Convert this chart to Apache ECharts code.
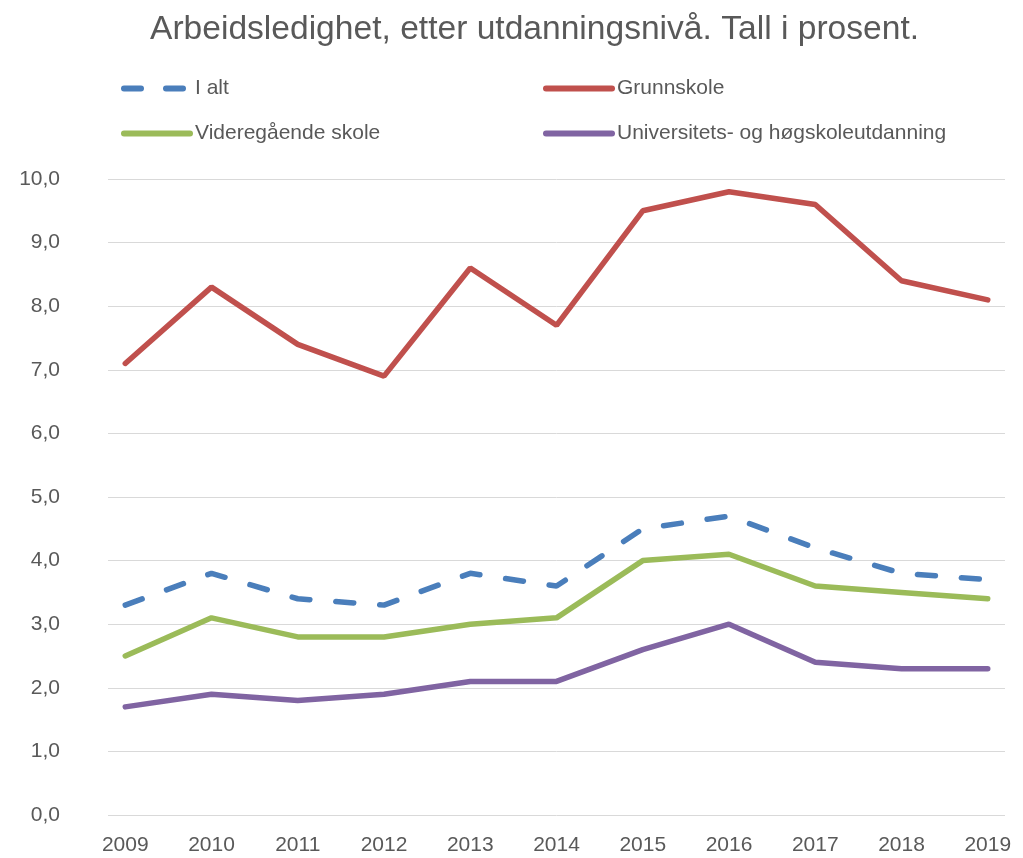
<!DOCTYPE html>
<html>
<head>
<meta charset="utf-8">
<script src="https://cdn.jsdelivr.net/npm/echarts@6/dist/echarts.min.js"></script>
<style>html,body{margin:0;padding:0;background:#fff}#c{width:1023px;height:858px}</style>
</head>
<body>
<div id="c"></div>
<script>
const years = [2009, 2010, 2011, 2012, 2013, 2014, 2015, 2016, 2017, 2018, 2019];
const iAlt = [3.3, 3.8, 3.4, 3.3, 3.8, 3.6, 4.5, 4.7, 4.2, 3.8, 3.7];
const grunnskole = [7.1, 8.3, 7.4, 6.9, 8.6, 7.7, 9.5, 9.8, 9.6, 8.4, 8.1];
const videregaende = [2.5, 3.1, 2.8, 2.8, 3.0, 3.1, 4.0, 4.1, 3.6, 3.5, 3.4];
const universitet = [1.7, 1.9, 1.8, 1.9, 2.1, 2.1, 2.6, 3.0, 2.4, 2.3, 2.3];
const names = ['I alt', 'Grunnskole', 'Videregående skole', 'Universitets- og høgskoleutdanning'];
const colors = ['#4a7ebb', '#c0504d', '#9bbb59', '#8064a2'];

const FONT = '"Liberation Sans", Arial, sans-serif';
const TXT = '#595959';
const pair = arr => years.map((y, i) => [y, arr[i]]);

const legendPos = [
  {left: 121, top: 78},
  {left: 543, top: 78},
  {left: 121, top: 123},
  {left: 543, top: 123}
];

const chart = echarts.init(document.getElementById('c'), null, {renderer: 'canvas'});
chart.setOption({
  animation: false,
  title: {
    text: 'Arbeidsledighet, etter utdanningsnivå. Tall i prosent.',
    left: 145, top: 8,
    textStyle: {fontFamily: FONT, fontSize: 33.6, fontWeight: 'normal', color: TXT}
  },
  legend: names.map((n, i) => ({
    data: [n], left: legendPos[i].left, top: legendPos[i].top, padding: 0,
    itemWidth: 66, itemHeight: 20,
    itemStyle: {opacity: 0},
    lineStyle: {width: 6, cap: 'round', type: i === 0 ? [17, 25] : 'solid', color: colors[i]},
    textStyle: {fontFamily: FONT, fontSize: 21, color: TXT}
  })),
  grid: {left: 108, right: 18, top: 179, bottom: 43, containLabel: false},
  xAxis: {
    type: 'value', min: 2008.8, max: 2019.2,
    axisLine: {show: false}, axisTick: {show: false}, splitLine: {show: false},
    axisLabel: {
      customValues: years, margin: 20,
      fontFamily: FONT, fontSize: 21, color: TXT,
      formatter: v => String(Math.round(v))
    }
  },
  yAxis: {
    type: 'value', min: 0, max: 10, interval: 1,
    axisLine: {show: false}, axisTick: {show: false},
    splitLine: {lineStyle: {color: '#d9d9d9', width: 1}},
    axisLabel: {
      margin: 48, fontFamily: FONT, fontSize: 21, color: TXT,
      formatter: v => v.toFixed(1).replace('.', ',')
    }
  },
  series: [
    {name: names[0], type: 'line', data: pair(iAlt), symbol: 'none', z: 4,
      lineStyle: {color: colors[0], width: 5.5, type: [18, 26], cap: 'round'}, itemStyle: {color: colors[0]}},
    {name: names[1], type: 'line', data: pair(grunnskole), symbol: 'none',
      lineStyle: {color: colors[1], width: 5.5, cap: 'round'}, itemStyle: {color: colors[1]}},
    {name: names[2], type: 'line', data: pair(videregaende), symbol: 'none',
      lineStyle: {color: colors[2], width: 5.5, cap: 'round'}, itemStyle: {color: colors[2]}},
    {name: names[3], type: 'line', data: pair(universitet), symbol: 'none',
      lineStyle: {color: colors[3], width: 5.5, cap: 'round'}, itemStyle: {color: colors[3]}}
  ]
});
</script>
</body>
</html>
